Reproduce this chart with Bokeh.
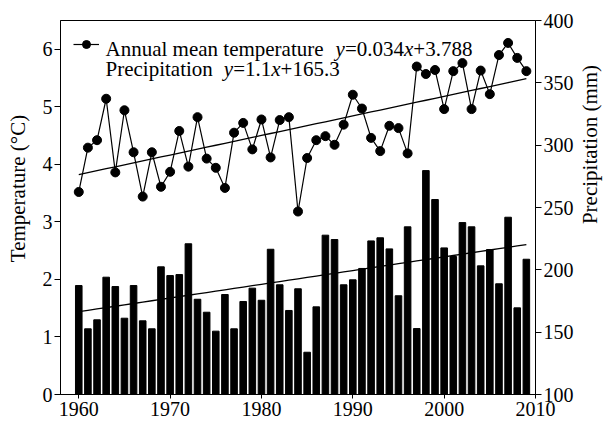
import math
from bokeh.plotting import figure
from bokeh.layouts import row
from bokeh.models import LinearAxis, Range1d, Label, Legend, LegendItem, FixedTicker
from bokeh.embed import file_html
from bokeh.resources import INLINE

# ---------------- data ----------------
years = list(range(1960, 2010))
temperature = [3.52, 4.29, 4.42, 5.14, 3.86, 4.94, 4.21, 3.44, 4.21, 3.61,
               3.87, 4.58, 3.96, 4.82, 4.10, 3.94, 3.59, 4.55, 4.72, 4.26,
               4.78, 4.12, 4.77, 4.82, 3.18, 4.11, 4.42, 4.49, 4.34, 4.69,
               5.21, 4.97, 4.46, 4.23, 4.67, 4.63, 4.19, 5.70, 5.57, 5.64,
               4.96, 5.62, 5.76, 4.96, 5.63, 5.22, 5.90, 6.11, 5.85, 5.62]
precipitation = [187.4, 152.7, 159.9, 194.1, 186.6, 161.2, 187.4, 159.1, 152.7, 202.4,
                 195.4, 196.2, 220.9, 176.4, 166.0, 150.8, 180.2, 152.7, 174.6, 185.3,
                 175.6, 216.5, 188.0, 167.4, 184.8, 133.9, 170.3, 227.8, 224.3, 188.0,
                 192.0, 201.1, 223.2, 225.7, 216.8, 179.2, 234.5, 152.9, 279.6, 256.4,
                 217.6, 210.7, 237.9, 234.5, 203.2, 216.3, 188.8, 242.2, 169.5, 208.5]
temp_slope, temp_intercept = 0.034, 3.788
prec_slope, prec_intercept = 1.1, 165.3
x_ticks = [1960, 1970, 1980, 1990, 2000, 2010]
temp_ticks = [0, 1, 2, 3, 4, 5, 6]
prec_ticks = [100, 150, 200, 250, 300, 350, 400]

temp_trend = [temp_slope * (y - years[0] + 1) + temp_intercept for y in years]
prec_trend = [prec_slope * (y - years[0] + 1) + prec_intercept for y in years]

# ---------------- layout ----------------
FONT = "Liberation Serif"
H = 423
LW, RW = 32, 27            # side strips holding the rotated axis titles
W = 604 - LW - RW          # main figure width
BL, BR, BT, BB = 28, 42, 20, 29
FW = W - BL - BR
FH = H - BT - BB

p = figure(width=W, height=H, x_range=Range1d(1958, 2010), y_range=Range1d(0, 6.5),
           output_backend="svg", toolbar_location=None,
           min_border_left=BL, min_border_right=BR, min_border_top=BT, min_border_bottom=BB)
p.extra_y_ranges = {"precip": Range1d(100, 400)}
p.xgrid.visible = False
p.ygrid.visible = False
p.outline_line_color = "black"
p.outline_line_width = 1
p.outline_line_alpha = 1
p.background_fill_color = "white"
p.border_fill_color = "white"

bars = p.vbar(x=years, top=precipitation, bottom=100, width=0.72,
              fill_color="black", line_color="black", y_range_name="precip")
p.line(years, prec_trend, line_color="black", line_width=1.3, y_range_name="precip")
tline = p.line(years, temperature, line_color="black", line_width=1.2)
p.line(years, temp_trend, line_color="black", line_width=1.3)
tdots = p.scatter(years, temperature, size=9, fill_color="black", line_color="black")
prec_icon = p.line(x=[], y=[], line_color="black", line_width=6)


def style_axis(ax, ticks, tick_out, standoff, label_size="20px"):
    ax.ticker = FixedTicker(ticks=ticks)
    ax.minor_tick_line_color = None
    ax.major_tick_in = 0
    ax.major_tick_out = tick_out
    ax.major_tick_line_color = "black"
    ax.axis_line_color = "black"
    ax.major_label_text_font = FONT
    ax.major_label_text_font_size = label_size
    ax.major_label_text_color = "black"
    ax.major_label_standoff = standoff


style_axis(p.xaxis[0], x_ticks, 4, 3)
style_axis(p.yaxis[0], temp_ticks, 6, 2)

ra = LinearAxis(y_range_name="precip")
style_axis(ra, prec_ticks, 6, 2)
p.add_layout(ra, "right")

# ---------------- legend ----------------
def make_legend(renderers, top_from_frame_top):
    leg = Legend(items=[LegendItem(label=" ", renderers=renderers)],
                 location=(13, FH - top_from_frame_top - 20),
                 glyph_width=26, glyph_height=20, label_height=20, label_width=1,
                 label_standoff=0, padding=0, margin=0, spacing=0,
                 label_text_font_size="1px", border_line_color=None,
                 background_fill_alpha=0)
    p.add_layout(leg, "center")

make_legend([tline, tdots], 14.3)
make_legend([prec_icon], 27.5)

REG = {'A': 722, 'n': 500, 'u': 500, 'a': 444, 'l': 278, 'm': 778, 'e': 444, 't': 278,
       'p': 500, 'r': 333, ' ': 250, 'P': 556, 'c': 444, 'i': 278, 'o': 500,
       '.': 250, '=': 564, '+': 564}
ITA = {'y': 444, 'x': 444}
LEG_SIZE = 21


def text_width(s, italic):
    table = ITA if italic else REG
    return sum(table.get(ch, 500) for ch in s) * LEG_SIZE / 1000.0


def legend_row(segments, x0, baseline_from_top, gap):
    x = x0
    y = FH - baseline_from_top
    for i, (txt, italic) in enumerate(segments):
        p.add_layout(Label(x=x, y=y, x_units="screen", y_units="screen", text=txt,
                           text_font=FONT, text_font_size=f"{LEG_SIZE}px",
                           text_font_style="italic" if italic else "normal",
                           text_color="black", text_baseline="alphabetic",
                           text_align="left"))
        x += text_width(txt, italic)
        if i == 0:
            x += gap


legend_row([("Annual mean temperature", False), ("y", True), ("=0.034", False),
            ("x", True), ("+3.788", False)], 45, 28.3, 12)
legend_row([("Precipitation", False), ("y", True), ("=1.1", False),
            ("x", True), ("+165.3", False)], 45, 48.3, 11)

# ---------------- rotated axis titles (reading bottom-to-top on both sides) ----------------
def title_strip(width, text, center_x, center_y_from_top):
    f = figure(width=width, height=H, x_axis_type=None, y_axis_type=None,
               output_backend="svg", toolbar_location=None, min_border=0,
               x_range=Range1d(0, 1), y_range=Range1d(0, 1))
    f.outline_line_color = None
    f.xgrid.visible = False
    f.ygrid.visible = False
    f.background_fill_color = "white"
    f.border_fill_color = "white"
    f.add_layout(Label(x=center_x, y=H - center_y_from_top, x_units="screen", y_units="screen",
                       text=text, angle=math.pi / 2, text_font=FONT, text_font_size="21px",
                       text_color="black", text_align="center", text_baseline="middle"))
    return f


left_title = title_strip(LW, "Temperature (°C)", 17, 217)
right_title = title_strip(RW, "Precipitation (mm)", 12, 173)

layout = row(left_title, p, right_title, spacing=0)

open("out.html", "w").write(file_html(layout, INLINE))
